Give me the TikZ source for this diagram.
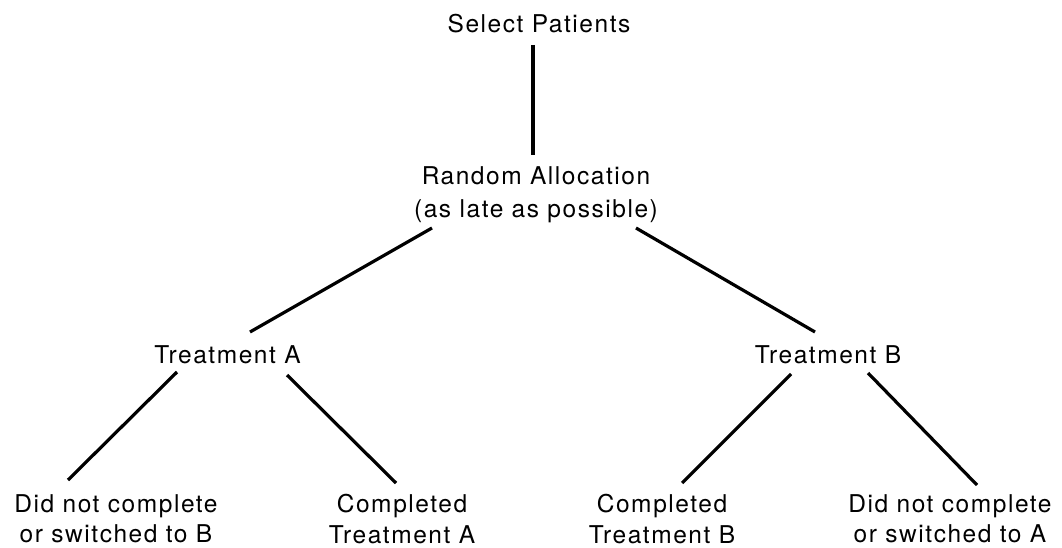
\documentclass[tikz,border=0pt]{standalone}
\usepackage{fontspec}
\setmainfont{TeX Gyre Heros}[LetterSpace=6.3]
\begin{document}
\begin{tikzpicture}[x=1pt,y=-1pt,
  lbl/.style={inner sep=0pt, align=center, font=\fontsize{24.5}{30.5}\selectfont},
  link/.style={line width=3.2pt, black}]
\useasboundingbox (0,0) rectangle (1062,548);
\node[lbl, anchor=base] (sp) at (539,33) {Select Patients};
\node[lbl, anchor=north, font=\fontsize{24.5}{33}\selectfont] (ra) at (536,166.5) {Random Allocation\\(as late as possible)};
\node[lbl, anchor=base] (ta) at (227.5,363) {Treatment A};
\node[lbl, anchor=base] (tb) at (828,363) {Treatment B};
\node[lbl, anchor=north] (dl) at (116,494) {Did not complete\\or switched to B};
\node[lbl, anchor=north] (ca) at (402,494) {Completed\\Treatment A};
\node[lbl, anchor=north] (cb) at (662,494) {Completed\\Treatment B};
\node[lbl, anchor=north] (dr) at (950,494) {Did not complete\\or switched to A};
\draw[link] ([shift={(-6,12)}]sp.base) -- ([shift={(-3,-11.5)}]ra.north);
\draw[link] ([shift={(-104,61.5)}]ra.north) -- ([shift={(22.5,-31)}]ta.base);
\draw[link] ([shift={(100,61.5)}]ra.north) -- ([shift={(-13,-31)}]tb.base);
\draw[link] ([shift={(-50.5,9)}]ta.base) -- ([shift={(-48,-14)}]dl.north);
\draw[link] ([shift={(59.5,12)}]ta.base) -- ([shift={(-6,-11)}]ca.north);
\draw[link] ([shift={(-37,11)}]tb.base) -- ([shift={(20,-11)}]cb.north);
\draw[link] ([shift={(40,10)}]tb.base) -- ([shift={(27,-9)}]dr.north);
\end{tikzpicture}
\end{document}
